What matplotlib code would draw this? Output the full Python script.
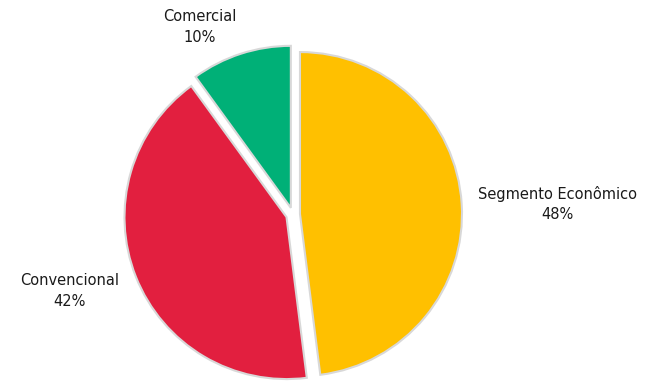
import matplotlib
matplotlib.use("Agg")
import matplotlib.pyplot as plt

# slice data (clockwise from 12 o'clock)
labels = ["Segmento Econômico", "Convencional", "Comercial"]
values = [48, 42, 10]
colors = ["#FFC000", "#E21F3F", "#00B077"]

W, H = 652, 386
fig = plt.figure(figsize=(W / 100, H / 100), dpi=100)
ax = fig.add_axes([0, 0, 1, 1])

cx, cy, r = 293, H - 214.5, 162

# explode is in data units (pixels here), not a fraction of the radius
ax.pie(values, colors=colors, startangle=90, counterclock=False,
       center=(cx, cy), radius=r, explode=[7] * len(values),
       wedgeprops=dict(edgecolor="#d8d8d8", linewidth=1.5))

# pie() resets the limits, so set them afterwards
ax.set_xlim(0, W)
ax.set_ylim(0, H)
ax.set_aspect("equal")
ax.set_axis_off()

# labels placed outside, as in the reference
label_pos = [(557, 204), (70, 291), (200, 27)]
for lab, v, (px, py) in zip(labels, values, label_pos):
    ax.text(px, H - py, f"{lab}\n{v}%", ha="center", va="center",
            fontsize=10.5, color="#1a1a1a", linespacing=1.45)

fig.savefig("out.png", dpi=100)
